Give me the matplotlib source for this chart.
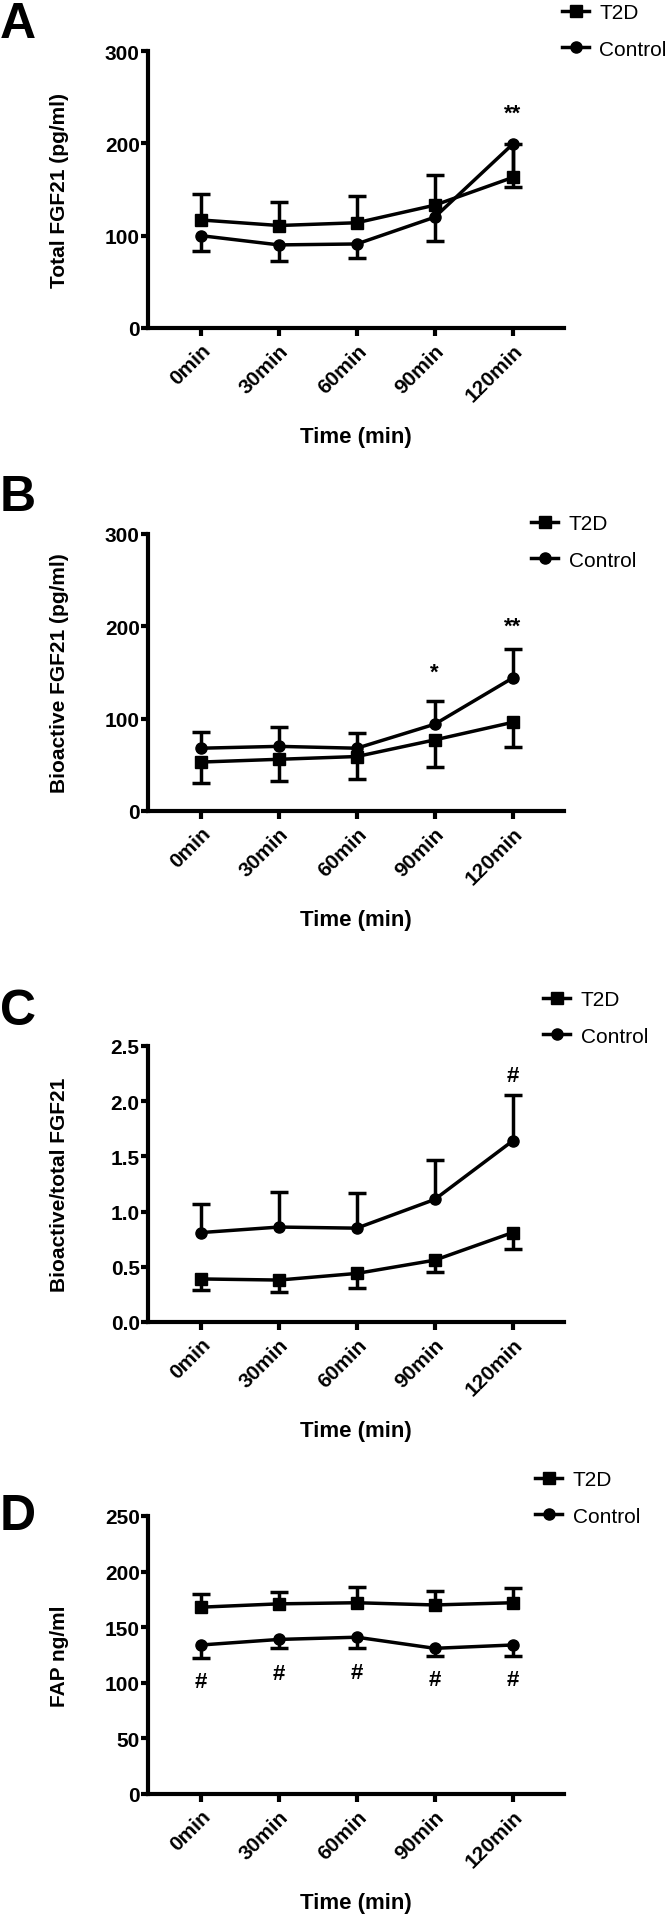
import matplotlib.pyplot as plt
import numpy as np

# x categories
times = ["0min", "30min", "60min", "90min", "120min"]

# A - total FGF21 (pg/ml)
total_t2d = [117, 111, 114, 133, 163]
total_t2d_err = [28, 26, 29, 33, 36]
total_ctl = [100, 90, 91, 120, 199]
total_ctl_err = [17, 17, 15, 26, 46]

# B - bioactive FGF21 (pg/ml)
bio_t2d = [53, 56, 59, 77, 96]
bio_t2d_err = [23, 23, 24, 29, 27]
bio_ctl = [68, 70, 68, 94, 144]
bio_ctl_err = [18, 21, 17, 25, 31]

# C - bioactive / total ratio
ratio_t2d = [0.39, 0.38, 0.44, 0.56, 0.81]
ratio_t2d_err = [0.10, 0.11, 0.13, 0.11, 0.15]
ratio_ctl = [0.81, 0.86, 0.85, 1.11, 1.64]
ratio_ctl_err = [0.26, 0.32, 0.32, 0.36, 0.42]

# D - FAP (ng/ml)
fap_t2d = [168, 171, 172, 170, 172]
fap_t2d_err = [12, 11, 14, 13, 13]
fap_ctl = [134, 139, 141, 131, 134]
fap_ctl_err = [12, 8, 10, 7, 10]

# significance marks (x index, y value, text)
sig_a = [(4, 233, "**")]
sig_b = [(3, 150, "*"), (4, 200, "**")]
sig_c = [(4, 2.23, "#")]
sig_d = [(0, 101, "#"), (1, 108, "#"), (2, 109, "#"), (3, 103, "#"), (4, 103, "#")]

W, H = 671, 1915
FONT = "Liberation Sans"

panels = [
    dict(letter="A", ylabel="Total FGF21 (pg/ml)", t2d=total_t2d, t2d_err=total_t2d_err, t2d_up=True,
         ctl=total_ctl, ctl_err=total_ctl_err, ylim=300, yticks=[0, 100, 200, 300], fmt="{:.0f}",
         sig=sig_a, top=52, bottom=329, leg_x=562, leg_y=15, let_y=25),
    dict(letter="B", ylabel="Bioactive FGF21 (pg/ml)", t2d=bio_t2d, t2d_err=bio_t2d_err, t2d_up=False,
         ctl=bio_ctl, ctl_err=bio_ctl_err, ylim=300, yticks=[0, 100, 200, 300], fmt="{:.0f}",
         sig=sig_b, top=535, bottom=812, leg_x=531, leg_y=526, let_y=498),
    dict(letter="C", ylabel="Bioactive/total FGF21", t2d=ratio_t2d, t2d_err=ratio_t2d_err, t2d_up=False,
         ctl=ratio_ctl, ctl_err=ratio_ctl_err, ylim=2.5, yticks=[0, 0.5, 1.0, 1.5, 2.0, 2.5], fmt="{:.1f}",
         sig=sig_c, top=1047, bottom=1323, leg_x=543, leg_y=1002, let_y=1012),
    dict(letter="D", ylabel="FAP ng/ml", t2d=fap_t2d, t2d_err=fap_t2d_err, t2d_up=True,
         ctl=fap_ctl, ctl_err=fap_ctl_err, ylim=250, yticks=[0, 50, 100, 150, 200, 250], fmt="{:.0f}",
         sig=sig_d, top=1517, bottom=1795, leg_x=535, leg_y=1482, let_y=1517),
]

fig = plt.figure(figsize=(W / 100, H / 100), dpi=100)
x = np.arange(len(times))

def draw_series(ax, vals, err, up, marker, label):
    vals = np.array(vals)
    err = np.array(err)
    ends = vals + err if up else vals - err
    ax.vlines(x, vals, ends, color="k", lw=2.5, zorder=2)
    ax.plot(x, ends, ls="none", marker="_", ms=13, mew=2.5, color="k", zorder=2)
    ax.plot(x, vals, color="k", lw=2.5, marker=marker, ms=8, label=label, zorder=3, clip_on=False)

for p in panels:
    ax = fig.add_axes([148 / W, 1 - p["bottom"] / H, 416 / W, (p["bottom"] - p["top"]) / H])
    draw_series(ax, p["t2d"], p["t2d_err"], p["t2d_up"], "s", "T2D")
    draw_series(ax, p["ctl"], p["ctl_err"], not p["t2d_up"], "o", "Control")

    for xi, yi, s in p["sig"]:
        ax.text(xi, yi, s, ha="center", va="center", fontsize=16, fontweight="bold", family=FONT)

    ax.set_xlim(-0.68, 4.66)
    ax.set_ylim(0, p["ylim"])
    ax.set_xticks(x)
    ax.set_xticklabels(times, rotation=45, ha="right", rotation_mode="anchor")
    ax.set_yticks(p["yticks"])
    ax.set_yticklabels([p["fmt"].format(v) for v in p["yticks"]])
    for lab in ax.get_xticklabels() + ax.get_yticklabels():
        lab.set_fontfamily(FONT)
        lab.set_fontweight("bold")
        lab.set_fontsize(15)

    for side in ["top", "right"]:
        ax.spines[side].set_visible(False)
    for side in ["left", "bottom"]:
        ax.spines[side].set_linewidth(3)
    ax.tick_params(axis="y", length=5, width=3, pad=1)
    ax.tick_params(axis="x", length=6, width=3, pad=3)

    ax.set_ylabel(p["ylabel"], fontsize=15, fontweight="bold", family=FONT)
    ax.yaxis.set_label_coords(-0.19, 0.5)
    ax.set_xlabel("Time (min)", fontsize=16, fontweight="bold", family=FONT)
    ax.xaxis.set_label_coords(0.5, -0.354)

    fig.text(0, 1 - p["let_y"] / H, p["letter"], fontsize=36, fontweight="bold",
             family=FONT, va="center", ha="left")

    ax.legend(loc="upper left", bbox_to_anchor=(p["leg_x"] / W, 1 - (p["leg_y"] - 11) / H),
              bbox_transform=fig.transFigure, frameon=False, borderpad=0, borderaxespad=0,
              handlelength=1.3, handletextpad=0.5, labelspacing=0.85,
              prop=dict(family=FONT, size=15))

fig.savefig("out.png", dpi=100)
